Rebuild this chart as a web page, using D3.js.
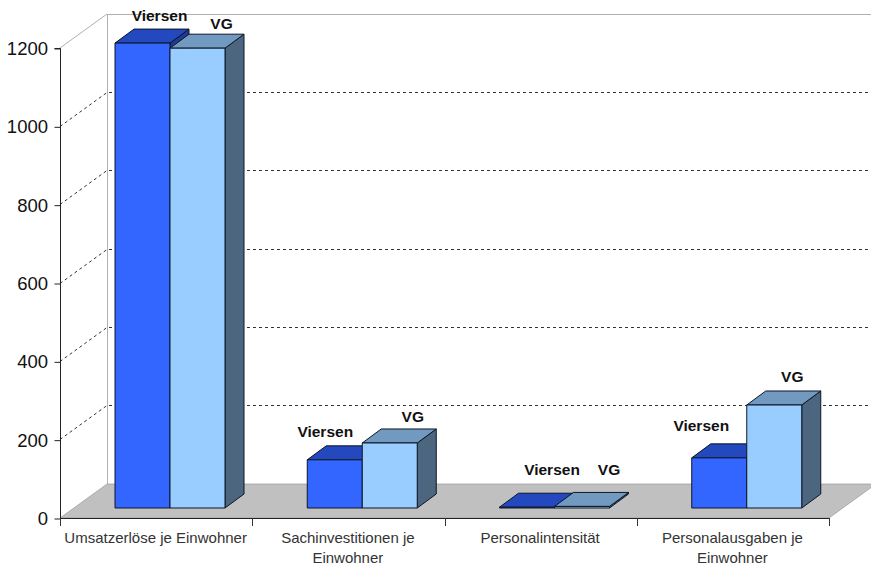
<!DOCTYPE html>
<html><head><meta charset="utf-8">
<script src="https://cdn.jsdelivr.net/npm/d3@7/dist/d3.min.js"></script>
<style>html,body{margin:0;padding:0;background:#fff}svg{display:block}text{font-family:"Liberation Sans",Arial,sans-serif}</style>
</head><body><svg id="c" width="871" height="566"></svg>
<script>
const categories = ["Umsatzerlöse je Einwohner","Sachinvestitionen je Einwohner","Personalintensität","Personalausgaben je Einwohner"];
const categoryLines = [["Umsatzerlöse je Einwohner"],["Sachinvestitionen je","Einwohner"],["Personalintensität"],["Personalausgaben je","Einwohner"]];
const seriesNames = ["Viersen","VG"];
const viersen = [1187,123,2,128];
const vg = [1174,166,4,263];
const yTicks = [0,200,400,600,800,1000,1200];
// layout of data labels relative to bar centre / bar top (px)
const labelDx = [[17,24],[-9.5,23],[25,27],[-18,18]];
const labelDy = [[-22,-19],[-23,-21],[-32,-31],[-27,-23]];

const colors = [
  {front:"#3366FF", top:"#2448BD", side:"#1D3A94"},
  {front:"#99CCFF", top:"#7299C0", side:"#4D6680"}
];
const svg = d3.select("#c");
const L=60,R=829,B=518,T=48, dx=47, dy=-34, bdx=19, bdy=-14, planeY=-10;
const x = d3.scaleBand().domain(categories).range([L,R]);
const inner = d3.scaleBand().domain(seriesNames).range([55,165]);
const y = d3.scaleLinear().domain([0,1200]).range([B,T]);
const pts = a=>a.map(p=>p.join(",")).join(" ");

// walls
svg.append("g").attr("stroke","#b0b0b0").attr("fill","none").call(g=>{
  g.append("line").attr("x1",L).attr("y1",T).attr("x2",L+dx).attr("y2",T+dy);
  g.append("line").attr("x1",L+dx).attr("y1",T+dy+0.5).attr("x2",871).attr("y2",T+dy+0.5);
  g.append("line").attr("x1",L+dx+0.5).attr("y1",T+dy).attr("x2",L+dx+0.5).attr("y2",B+dy);
});
// floor
svg.append("polygon").attr("points",pts([[L,B],[R,B],[R+dx,B+dy],[L+dx,B+dy]])).attr("fill","#C0C0C0").attr("stroke","#999").attr("stroke-width",0.7);

// gridlines
const grid = svg.append("g").attr("stroke","#333").attr("stroke-width",1).attr("stroke-dasharray","3 3").attr("fill","none");
yTicks.filter(t=>t>0&&t<1200).forEach(t=>{
  const py=Math.floor(y(t))+0.5;
  grid.append("polyline").attr("points",pts([[L,py],[L+dx,py+dy],[871,py+dy]]));
});

// bars
categories.forEach((c,i)=>{
  [viersen,vg].forEach((arr,s)=>{
    const bx0 = x(c)+inner(seriesNames[s]), w=inner.bandwidth();
    const base=B+planeY, top=base-(B-y(arr[i])), bx1=bx0+w;
    const g=svg.append("g").attr("stroke","#0c1626").attr("stroke-width",1).attr("stroke-linejoin","round");
    g.append("polygon").attr("points",pts([[bx1,top],[bx1+bdx,top+bdy],[bx1+bdx,base+bdy],[bx1,base]])).attr("fill",colors[s].side);
    g.append("polygon").attr("points",pts([[bx0,top],[bx0+bdx,top+bdy],[bx1+bdx,top+bdy],[bx1,top]])).attr("fill",colors[s].top);
    g.append("rect").attr("x",bx0).attr("y",top).attr("width",w).attr("height",base-top).attr("fill",colors[s].front);
  });
});
// data labels
categories.forEach((c,i)=>{
  [viersen,vg].forEach((arr,s)=>{
    const cx=x(c)+inner(seriesNames[s])+inner.bandwidth()/2;
    const top=B+planeY-(B-y(arr[i]));
    svg.append("text").attr("x",cx+labelDx[i][s]).attr("y",top+labelDy[i][s]).attr("text-anchor","middle")
      .attr("font-size",15.5).attr("font-weight","bold").attr("fill","#111").text(seriesNames[s]);
  });
});

// axes
const yAxis=d3.axisLeft(y).tickValues(yTicks).tickSize(6).tickPadding(6.5).tickFormat(d3.format("d"));
svg.append("g").attr("transform",`translate(${L+0.5},0.5)`).call(yAxis)
  .call(g=>g.selectAll("path,line").attr("stroke","#222"))
  .call(g=>g.select(".domain").attr("d",`M-6,${T}H0V${B}`))
  .call(g=>g.selectAll("text").attr("font-size",18.5).attr("fill","#111").attr("font-family",'"Liberation Sans",Arial,sans-serif'));
const xTickVals=categories.map(c=>x(c)).concat([R]);
const xg=svg.append("g").attr("stroke","#222");
xg.append("line").attr("x1",L).attr("x2",R).attr("y1",B+0.5).attr("y2",B+0.5);
xg.selectAll("line.t").data(xTickVals).join("line").attr("class","t")
  .attr("x1",d=>Math.round(d)+0.5).attr("x2",d=>Math.round(d)+0.5).attr("y1",B).attr("y2",B+8).attr("stroke","#333");
categories.forEach((c,i)=>{
  const t=svg.append("text").attr("text-anchor","middle").attr("font-size",15).attr("fill","#333");
  categoryLines[i].forEach((l,k)=>t.append("tspan").attr("x",x(c)+x.bandwidth()/2-0.5).attr("y",543+k*20).text(l));
});
</script></body></html>
